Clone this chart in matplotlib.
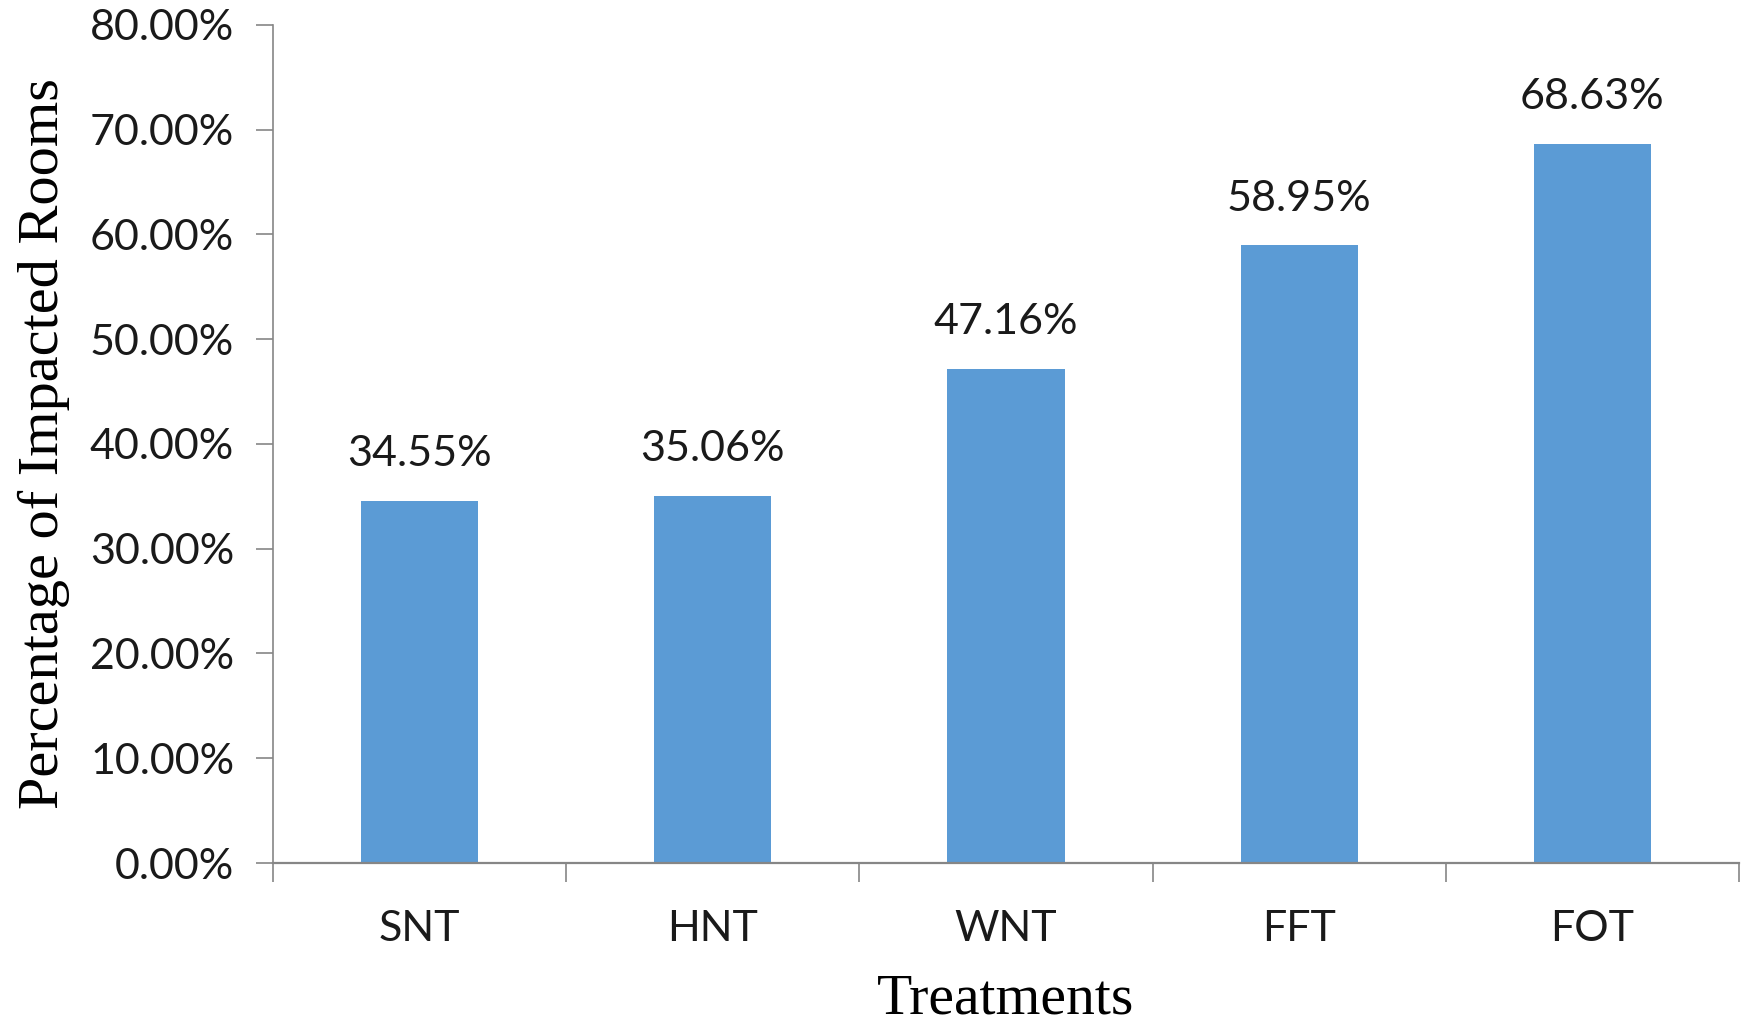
import matplotlib
matplotlib.use("Agg")
import matplotlib.pyplot as plt
import numpy as np
from matplotlib.ticker import FuncFormatter, FixedLocator

treatments = ["SNT", "HNT", "WNT", "FFT", "FOT"]
impacted = [34.55, 35.06, 47.16, 58.95, 68.63]
yticks = [0, 10, 20, 30, 40, 50, 60, 70, 80]

bar_color = "#5B9BD5"
axis_gray = "#868686"
sans = ["Lato", "DejaVu Sans"]
serif = ["Liberation Serif", "DejaVu Serif"]

fig = plt.figure(figsize=(17.5, 10.23), dpi=100)
ax = fig.add_axes([0.156, 0.1564, 0.8377, 0.8192])

x = np.arange(len(treatments))
ax.bar(x, impacted, width=0.4, color=bar_color, zorder=2)

# value labels above bars
for xi, v in zip(x, impacted):
    ax.annotate(f"{v:.2f}%", (xi, v), xytext=(0, 20), textcoords="offset points",
                ha="center", va="bottom", fontsize=31, family=sans, color="#1a1a1a")

ax.set_xlim(-0.5, len(treatments) - 0.5)
ax.set_ylim(0, 80)
ax.set_yticks(yticks)
ax.yaxis.set_major_formatter(FuncFormatter(lambda v, p: f"{v:.2f}%"))

# category labels centred, tick marks on the category boundaries
ax.set_xticks(x)
ax.set_xticklabels(treatments)
ax.xaxis.set_minor_locator(FixedLocator(np.arange(-0.5, len(treatments), 1.0)))
ax.tick_params(axis="x", which="major", length=0, pad=34)
ax.tick_params(axis="x", which="minor", length=14, width=1.2, color=axis_gray)
ax.tick_params(axis="y", length=12, width=1.2, color=axis_gray, pad=16)

for lab in ax.get_xticklabels() + ax.get_yticklabels():
    lab.set_family(sans)
    lab.set_fontsize(31)
    lab.set_color("#1a1a1a")

for s in ["top", "right"]:
    ax.spines[s].set_visible(False)
ax.spines["left"].set_color(axis_gray)
ax.spines["left"].set_linewidth(1.2)
ax.spines["bottom"].set_color(axis_gray)
ax.spines["bottom"].set_linewidth(1.6)
ax.spines["bottom"].set_zorder(3)

ax.set_xlabel("Treatments", family=serif, fontsize=41.5, labelpad=18)
ax.set_ylabel("Percentage of Impacted Rooms", family=serif, fontsize=42, labelpad=14)

fig.savefig("out.png", dpi=100)
